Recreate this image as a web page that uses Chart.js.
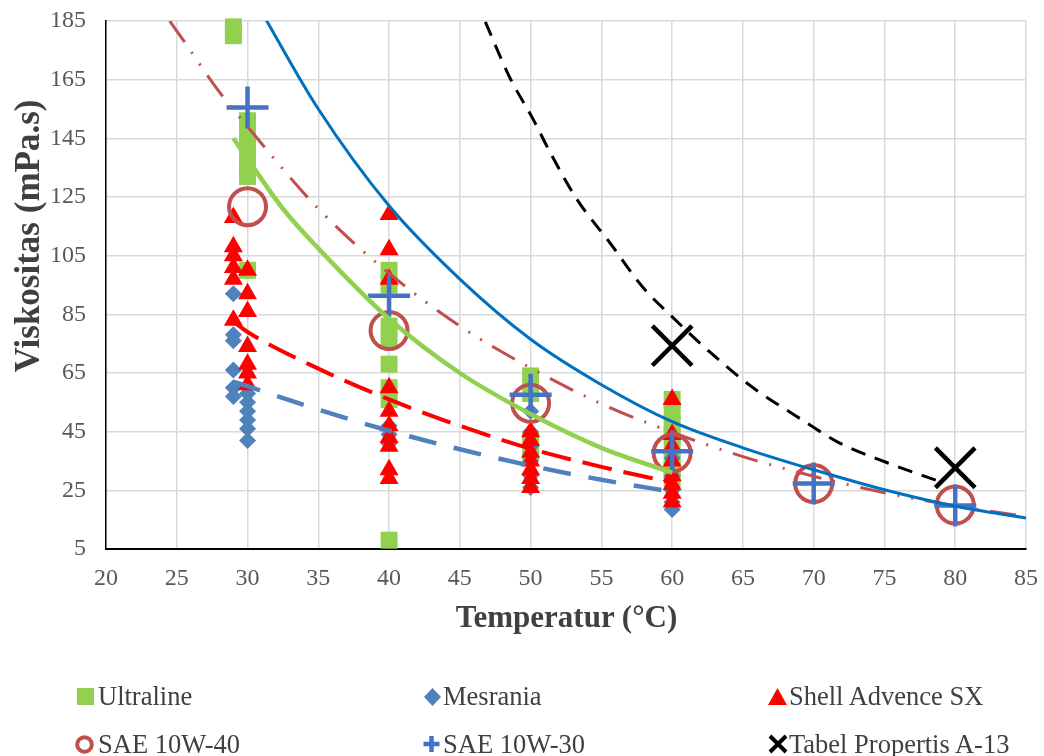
<!DOCTYPE html>
<html>
<head>
<meta charset="utf-8">
<script src="https://cdn.jsdelivr.net/npm/chart.js@4/dist/chart.umd.min.js"></script>
<style>
html,body{margin:0;padding:0;background:#fff;}
#wrap{position:relative;width:1044px;height:756px;overflow:hidden;}
#c{position:absolute;left:0;top:0;}
.t{position:absolute;font-family:"Liberation Serif","Times New Roman",serif;color:#404040;white-space:nowrap;line-height:1;}
.leg{font-size:26.5px;}
.ttl{font-weight:bold;font-size:31px;}
#legsym{position:absolute;left:0;top:0;pointer-events:none;}
</style>
</head>
<body>
<div id="wrap">
<canvas id="c" width="1044" height="756"></canvas>
<div class="t ttl" id="xt" style="left:566.5px;top:600.5px;transform:translateX(-50%);">Temperatur (°C)</div>
<div class="t ttl" id="yt" style="left:27px;top:236px;font-size:35px;transform:translate(-50%,-50%) rotate(-90deg);">Viskositas (mPa.s)</div>
<svg id="legsym" width="1044" height="756">
  <rect x="77" y="688" width="17" height="17" fill="#92D050"/>
  <polygon points="432.5,688 441,697 432.5,706 424,697" fill="#4F81BD"/>
  <polygon points="777.5,688 787,705 768,705" fill="#FF0000"/>
  <circle cx="84.5" cy="744.5" r="7.3" fill="none" stroke="#C0504D" stroke-width="4"/>
  <path d="M423.5 744 H439.5 M431.5 736 V752" stroke="#4472C4" stroke-width="4.5" fill="none"/>
  <path d="M770 736 L786 752 M786 736 L770 752" stroke="#000" stroke-width="4" fill="none"/>
</svg>
<div class="t leg" style="left:98px;top:682.8px;">Ultraline</div>
<div class="t leg" style="left:443px;top:682.8px;">Mesrania</div>
<div class="t leg" style="left:789px;top:682.8px;">Shell Advence SX</div>
<div class="t leg" style="left:98px;top:730.5px;">SAE 10W-40</div>
<div class="t leg" style="left:443px;top:730.5px;">SAE 10W-30</div>
<div class="t leg" style="left:789px;top:730.5px;">Tabel Propertis A-13</div>
</div>
<script>
// ---- Measured series (Temperatur °C, Viskositas mPa.s) ----
const ultralineX = [29,29,30,30,30,30,30,30,30,40,40,40,40,40,40,40,40,50,50,50,50,60,60,60,60,60,60,60,60];
const ultralineY = [183,180,151,147,143,139,135,132,100,100,95,81,76,68,60,56,8,64,58,42,38,56,52,48,44,40,36,32,29];

const mesraniaX = [29,29,29,29,29,29,30,30,30,30,30,30,40,40,40,50,50,50,50,50,50,60,60,60,60,60];
const mesraniaY = [92,78,76,66,60,57,58,55,52,49,46,42,47,44,41,52,45,40,35,30,26,36,30,25,21,18.5];

const shellX = [29,29,29,29,29,29,30,30,30,30,30,30,30,40,40,40,40,40,40,40,40,40,40,50,50,50,50,50,50,50,60,60,60,60,60,60,60,60];
const shellY = [118,108,105,101,97,83,100,92,86,74,68,65,61,119,107,97,60,52,47,43,40,32,29,45,42,38,35,32,29,26,56,44,40,35,30,27,24,21];

const sae40X = [30,40,50,60,70,80];
const sae40Y = [121.7,79.5,54.7,37.7,27.3,20];

const sae30X = [30,40,50,60,70,80];
const sae30Y = [155.5,91.3,57.6,38.3,27.3,19.8];

const tabelX = [60,80];
const tabelY = [74.3,32.7];

// ---- Trend curves, points ----
const trendBlueX = [31,35,40,45,50,55,60,65,70,75,80,85];
const trendBlueY = [188,155,122,97,76.5,61,48.4,39.5,32,25.2,19.6,15.6];

const trendBlackX = [46.8,48.5,50.2,51.4,53.3,55.6,57.9,60.1,62.7,65.6,68.8,71.8,75.2,78.9];
const trendBlackY = [184.7,166,151.3,140,124,109.4,94.4,83.7,72,60.4,50.2,41.2,34.4,28];

const trendBrownX = [24.5,25.6,27.9,30,35,40,45,50,55,60,65,70,75,80,85];
const trendBrownY = [185,177.5,161.5,149,121,99,81,66.7,54.5,44.8,36.5,29.8,24.2,19.7,16.1];

const trendGreenX = [29,30,32.5,35,40,45,50,55,60];
const trendGreenY = [145,138,121,107.5,83.5,65,51,39.5,31];

const trendRedX = [29,30,35,40,45,50,55,60];
const trendRedY = [82.5,79,66.5,56,47,39.2,33,27.6];

const trendMesX = [29,30,35,40,45,50,55,60];
const trendMesY = [62,60.5,52.5,45.3,39,33.4,28.6,24.5];

const xMin = 20, xMax = 85, xStep = 5;
const yMin = 5, yMax = 185, yStep = 20;

const pts = (xs, ys) => xs.map((x, i) => ({x, y: ys[i]}));

function trend(label, xs, ys, color, width, dash) {
  return {
    label, data: pts(xs, ys), showLine: true, pointRadius: 0,
    borderColor: color, borderWidth: width, borderDash: dash || [],
    borderCapStyle: 'butt', cubicInterpolationMode: 'monotone',
    clip: 0, order: 1, fill: false
  };
}

const datasets = [
  trend('trendBlue', trendBlueX, trendBlueY, '#0070C0', 3),
  trend('trendBlack', trendBlackX, trendBlackY, '#000000', 3, [15, 10]),
  trend('trendBrown', trendBrownX, trendBrownY, '#C0504D', 3, [26, 12, 2, 12, 2, 12]),
  trend('trendGreen', trendGreenX, trendGreenY, '#92D050', 4.5),
  trend('trendRed', trendRedX, trendRedY, '#FF0000', 4, [30, 12]),
  trend('trendMes', trendMesX, trendMesY, '#4F81BD', 4.5, [28, 18]),
  { label: 'Tabel Propertis A-13', data: pts(tabelX, tabelY), pointStyle: 'crossRot', pointRadius: 28,
    borderColor: '#000000', backgroundColor: '#000000', pointBorderWidth: 4.5, showLine: false, clip: false, order: 5 },
  { label: 'SAE 10W-30', data: pts(sae30X, sae30Y), pointStyle: 'cross', pointRadius: 21,
    borderColor: '#4472C4', backgroundColor: '#4472C4', pointBorderWidth: 4.5, showLine: false, clip: false, order: 6 },
  { label: 'SAE 10W-40', data: pts(sae40X, sae40Y), pointStyle: 'circle', pointRadius: 18.5,
    borderColor: '#C0504D', backgroundColor: 'rgba(0,0,0,0)', pointBorderWidth: 4, showLine: false, clip: false, order: 7 },
  { label: 'Shell Advence SX', data: pts(shellX, shellY), pointStyle: 'triangle', pointRadius: 11,
    borderColor: '#FF0000', backgroundColor: '#FF0000', pointBorderWidth: 0, showLine: false, clip: false, order: 8 },
  { label: 'Mesrania', data: pts(mesraniaX, mesraniaY), pointStyle: 'rectRot', pointRadius: 8.5,
    borderColor: '#4F81BD', backgroundColor: '#4F81BD', pointBorderWidth: 0, showLine: false, clip: false, order: 9 },
  { label: 'Ultraline', data: pts(ultralineX, ultralineY), pointStyle: 'rect', pointRadius: 12,
    borderColor: '#92D050', backgroundColor: '#92D050', pointBorderWidth: 0, showLine: false, clip: false, order: 10 }
];

const tickFont = { family: "'Liberation Serif','Times New Roman',serif", size: 24 };

new Chart(document.getElementById('c'), {
  type: 'scatter',
  data: { datasets },
  options: {
    responsive: false,
    animation: false,
    events: [],
    layout: { autoPadding: false, padding: { left: 0, right: 18, top: 21, bottom: 0 } },
    plugins: { legend: { display: false }, tooltip: { enabled: false }, title: { display: false } },
    scales: {
      x: {
        type: 'linear', min: xMin, max: xMax,
        ticks: { stepSize: xStep, color: '#595959', font: tickFont, padding: 15.5, maxRotation: 0 },
        grid: { color: '#D9D9D9', lineWidth: 1.5, drawTicks: false },
        border: { color: '#000000', width: 2 },
        afterFit: s => { s.height = 756 - 549; s.paddingLeft = 0; s.paddingRight = 0; s.paddingTop = 0; s.paddingBottom = 0; }
      },
      y: {
        type: 'linear', min: yMin, max: yMax,
        ticks: { stepSize: yStep, color: '#595959', font: tickFont, padding: 20 },
        grid: { color: '#D9D9D9', lineWidth: 1.5, drawTicks: false },
        border: { color: '#000000', width: 1.5 },
        afterFit: s => { s.width = 106; s.paddingLeft = 0; s.paddingRight = 0; s.paddingTop = 0; s.paddingBottom = 0; }
      }
    }
  }
});
</script>
</body>
</html>
